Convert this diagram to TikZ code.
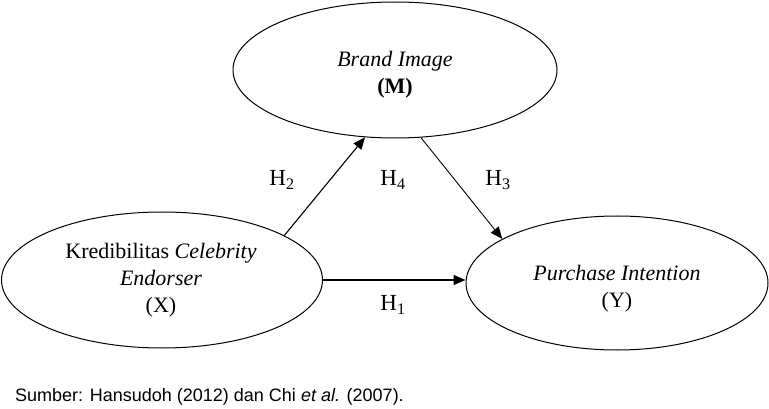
\documentclass[tikz,border=0pt]{standalone}
\usepackage{fontspec}
\setmainfont{Liberation Serif}
\newfontfamily\capfont{Liberation Sans}
\usetikzlibrary{shapes.geometric,arrows.meta}
\tikzset{
  varell/.style={draw, ellipse, inner sep=0pt, line width=1pt},
  vartext/.style={align=center, font=\fontsize{22}{27}\selectfont, inner sep=0pt},
  hyplabel/.style={font=\fontsize{23}{27}\selectfont, inner sep=0pt},
  path/.style={line width=1.1pt, -{Triangle[length=12pt,width=10pt]}}
}
\begin{document}
\begin{tikzpicture}[x=1pt,y=-1pt]
\useasboundingbox (0,0) rectangle (769,409);
\node[varell, minimum width=324pt, minimum height=136pt] (M) at (395,70) {};
\node[varell, minimum width=321pt, minimum height=136pt] (X) at (162,280) {};
\node[varell, minimum width=302pt, minimum height=134pt] (Y) at (617,283) {};
\node[vartext] (tM) at (395,75) {\textit{Brand Image}\\\textbf{(M)}};
\node[vartext] (tX) at (161,280) {Kredibilitas \textit{Celebrity}\\\textit{Endorser}\\(X)};
\node[vartext] (tY) at (617,289) {\textit{Purchase Intention}\\(Y)};
\draw[path] (X.20.4) -- (M.246.9);
\draw[path, line width=0.9pt] (M.291.7) -- (Y.159);
\draw[path, line width=1.4pt] (X.east) -- (X.east -| Y.west);
\node[hyplabel] (H2) at (282,180) {H\textsubscript{2}};
\node[hyplabel] (H4) at (393,180) {H\textsubscript{4}};
\node[hyplabel] (H3) at (498,180) {H\textsubscript{3}};
\node[hyplabel] (H1) at (393,305) {H\textsubscript{1}};
\node[anchor=west, inner sep=0pt, font=\capfont\fontsize{18}{22}\selectfont] (src) at (15,397) {Sumber: Hansudoh (2012) dan Chi \textit{et al.} (2007).};
\end{tikzpicture}
\end{document}
